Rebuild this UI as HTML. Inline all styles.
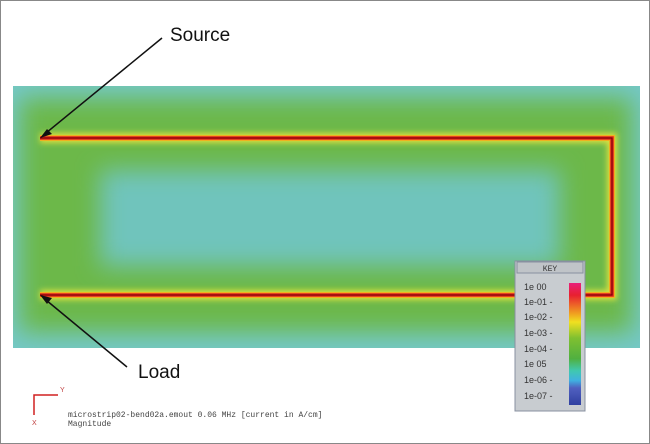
<!DOCTYPE html>
<html><head><meta charset="utf-8"><style>
html,body{margin:0;padding:0;background:#fff}
svg{display:block}
text{font-family:"Liberation Sans",sans-serif}
.mono{font-family:"Liberation Mono",monospace}
</style></head><body>
<svg width="650" height="444" viewBox="0 0 650 444">
<defs>
<filter id="b1" x="-20%" y="-20%" width="140%" height="140%"><feGaussianBlur stdDeviation="12"/></filter>
<filter id="b2" x="-20%" y="-20%" width="140%" height="140%"><feGaussianBlur stdDeviation="3"/></filter>
<linearGradient id="key" x1="0" y1="0" x2="0" y2="1">
<stop offset="0" stop-color="#e8207a"/><stop offset="0.1" stop-color="#e82030"/>
<stop offset="0.25" stop-color="#f0a020"/><stop offset="0.32" stop-color="#f0e020"/>
<stop offset="0.45" stop-color="#80c030"/><stop offset="0.62" stop-color="#50b040"/>
<stop offset="0.72" stop-color="#40c8b0"/><stop offset="0.8" stop-color="#40b0e0"/>
<stop offset="0.86" stop-color="#5060c0"/><stop offset="1" stop-color="#3040a0"/>
</linearGradient>
<clipPath id="fc"><rect x="13" y="86" width="627" height="262"/></clipPath>
</defs>
<rect x="0.5" y="0.5" width="649" height="443" fill="#fff" stroke="#888"/>
<g clip-path="url(#fc)">
<rect x="13" y="86" width="627" height="262" fill="#74c8c6"/>
<rect x="20" y="98" width="612" height="234" fill="#6cb848" filter="url(#b1)"/>
<rect x="100" y="170" width="460" height="96" fill="#70c4bc" filter="url(#b1)"/>
</g>
<g fill="none" stroke-linejoin="miter">
<polyline points="40,138 612,138 612,295 40,295" stroke="#d8e040" stroke-width="10" filter="url(#b2)"/>
<polyline points="40,138 612,138 612,295 40,295" stroke="#f0b020" stroke-width="6"/>
<polyline points="40,138 612,138 612,295 40,295" stroke="#e02020" stroke-width="3.5"/>
<polyline points="40,138 612,138 612,295 40,295" stroke="#700000" stroke-width="1"/>
</g>
<g>
<rect x="515" y="261" width="70" height="150" fill="#c8ccd0" stroke="#8890a0"/>
<rect x="517" y="262" width="66" height="11" fill="#c0c4c8" stroke="#8890a0"/>
<text x="550" y="271" font-size="8" text-anchor="middle" class="mono" fill="#333">KEY</text>
<rect x="569" y="283" width="12" height="122" fill="url(#key)"/>
<g class="mono" font-size="9" fill="#333">
<text x="524" y="290">1e 00</text><text x="524" y="305">1e-01 -</text>
<text x="524" y="320">1e-02 -</text><text x="524" y="336">1e-03 -</text>
<text x="524" y="352">1e-04 -</text><text x="524" y="367">1e 05</text>
<text x="524" y="383">1e-06 -</text><text x="524" y="399">1e-07 -</text>
</g>
</g>
<g>
<line x1="162" y1="38" x2="46" y2="133" stroke="#111" stroke-width="1.5"/>
<polygon points="40,138 52,134 47,129" fill="#111"/>
<text x="170" y="41" font-size="19" fill="#111">Source</text>
</g>
<g>
<line x1="127" y1="367" x2="46" y2="300" stroke="#111" stroke-width="1.5"/>
<polygon points="40,295 52,298 47,304" fill="#111"/>
<text x="138" y="378" font-size="19" fill="#111">Load</text>
</g>
<g>
<polyline points="34,415 34,395 58,395" fill="none" stroke="#d02020" stroke-width="1.5"/>
<text x="60" y="392" font-size="7" fill="#c04040">Y</text>
<text x="32" y="425" font-size="7" fill="#c04040">X</text>
</g>
<text x="68" y="417" font-size="8" class="mono" fill="#444">microstrip02-bend02a.emout 0.06 MHz [current in A/cm]</text>
<text x="68" y="426" font-size="8" class="mono" fill="#444">Magnitude</text>
</svg>
</body></html>
